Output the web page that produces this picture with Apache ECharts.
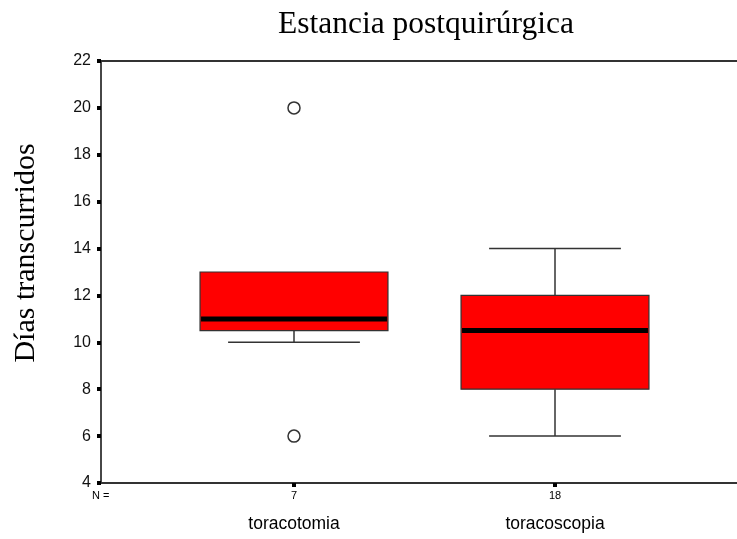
<!DOCTYPE html>
<html>
<head>
<meta charset="utf-8">
<script src="https://cdn.jsdelivr.net/npm/echarts@6/dist/echarts.min.js"></script>
<style>html,body{margin:0;padding:0;background:#fff}#c{width:737px;height:539px}</style>
</head>
<body>
<div id="c"></div>
<script>
// Data
var categories = ['toracotomia', 'toracoscopia'];
var counts = ['7', '18'];
// [low whisker, Q1, median, Q3, high whisker]
var boxStats = [
  [10, 10.5, 11, 13, 13],
  [6, 8, 10.5, 12, 14]
];
var outliers = [[0, 20], [0, 6]];
var yTicks = {min: 4, max: 22, step: 2};
var titleText = 'Estancia postquirúrgica';
var yTitle = 'Días transcurridos';

var boxData = boxStats.map(function (s, i) { return [i].concat(s); });

var chart = echarts.init(document.getElementById('c'), null, {renderer: 'canvas'});
var sans = 'Liberation Sans, Arial, sans-serif';
var serif = 'Liberation Serif, Times New Roman, serif';
var lineColor = '#333';

chart.setOption({
  animation: false,
  backgroundColor: '#fff',
  grid: [
    {left: 101, right: 0, top: 61, bottom: 56},
    {left: 163.5, right: 51.5, top: 61, bottom: 56}
  ],
  xAxis: [
    {gridIndex: 0, type: 'value', min: 0, max: 1, position: 'bottom',
      axisLine: {show: true, lineStyle: {color: lineColor, width: 1.8}},
      axisTick: {show: false}, axisLabel: {show: false}, splitLine: {show: false}},
    {gridIndex: 0, type: 'value', min: 0, max: 1, position: 'top',
      axisLine: {show: true, lineStyle: {color: lineColor, width: 1.8}},
      axisTick: {show: false}, axisLabel: {show: false}, splitLine: {show: false}},
    {gridIndex: 1, type: 'category', data: categories, position: 'bottom',
      axisLine: {show: false},
      axisTick: {show: true, alignWithLabel: true, length: 4, lineStyle: {color: '#000', width: 4}},
      axisLabel: {show: true, interval: 0, margin: 7, fontFamily: sans, fontSize: 11, color: '#000',
        formatter: function (v, i) { return counts[i]; }},
      splitLine: {show: false}},
    {gridIndex: 1, type: 'category', data: categories, position: 'bottom',
      axisLine: {show: false}, axisTick: {show: false},
      axisLabel: {show: true, interval: 0, margin: 32, fontFamily: sans, fontSize: 17.5, color: '#000'},
      splitLine: {show: false}}
  ],
  yAxis: [
    {gridIndex: 0, type: 'value', min: yTicks.min, max: yTicks.max, interval: yTicks.step,
      axisLine: {show: true, lineStyle: {color: lineColor, width: 1.8}},
      axisTick: {show: true, length: 4, lineStyle: {color: '#000', width: 4}},
      axisLabel: {margin: 10, fontFamily: sans, fontSize: 16, color: '#111'},
      splitLine: {show: false}},
    {gridIndex: 1, type: 'value', min: yTicks.min, max: yTicks.max, interval: yTicks.step, show: false}
  ],
  graphic: [
    {type: 'text', x: 426, y: 25,
      style: {text: titleText, font: 'normal 31.5px ' + serif, fill: '#000', align: 'center', verticalAlign: 'middle'}},
    {type: 'text', x: 26, y: 253, rotation: Math.PI / 2,
      style: {text: yTitle, font: 'normal 30px ' + serif, fill: '#000', align: 'center', verticalAlign: 'middle'}},
    {type: 'text', x: 92, y: 496,
      style: {text: 'N =', font: 'normal 11px ' + sans, fill: '#000', align: 'left', verticalAlign: 'middle'}}
  ],
  series: [
    {
      type: 'custom', xAxisIndex: 2, yAxisIndex: 1,
      data: boxData,
      encode: {x: 0, y: [1, 2, 3, 4, 5]},
      renderItem: function (params, api) {
        var idx = api.value(0);
        var low = api.coord([idx, api.value(1)]);
        var q1 = api.coord([idx, api.value(2)]);
        var med = api.coord([idx, api.value(3)]);
        var q3 = api.coord([idx, api.value(4)]);
        var high = api.coord([idx, api.value(5)]);
        var band = api.size([1, 0])[0];
        var bw = band * 0.72;
        var cw = band * 0.505;
        var cx = low[0];
        var children = [];
        var ws = {stroke: lineColor, lineWidth: 1.5};
        if (api.value(1) < api.value(2)) {
          children.push({type: 'line', shape: {x1: cx, y1: q1[1], x2: cx, y2: low[1]}, style: ws});
          children.push({type: 'line', shape: {x1: cx - cw / 2, y1: low[1], x2: cx + cw / 2, y2: low[1]}, style: ws});
        }
        if (api.value(5) > api.value(4)) {
          children.push({type: 'line', shape: {x1: cx, y1: q3[1], x2: cx, y2: high[1]}, style: ws});
          children.push({type: 'line', shape: {x1: cx - cw / 2, y1: high[1], x2: cx + cw / 2, y2: high[1]}, style: ws});
        }
        children.push({type: 'rect', shape: {x: cx - bw / 2, y: q3[1], width: bw, height: q1[1] - q3[1]},
          style: {fill: '#ff0000', stroke: lineColor, lineWidth: 1.2}});
        children.push({type: 'line', shape: {x1: cx - bw / 2 + 1, y1: med[1], x2: cx + bw / 2 - 1, y2: med[1]},
          style: {stroke: '#000', lineWidth: 5}});
        return {type: 'group', children: children};
      },
      z: 2
    },
    {
      type: 'scatter', xAxisIndex: 2, yAxisIndex: 1,
      data: outliers,
      symbol: 'circle', symbolSize: 12,
      itemStyle: {color: '#fff', borderColor: lineColor, borderWidth: 1.5, opacity: 1},
      z: 3
    }
  ]
});
</script>
</body>
</html>
